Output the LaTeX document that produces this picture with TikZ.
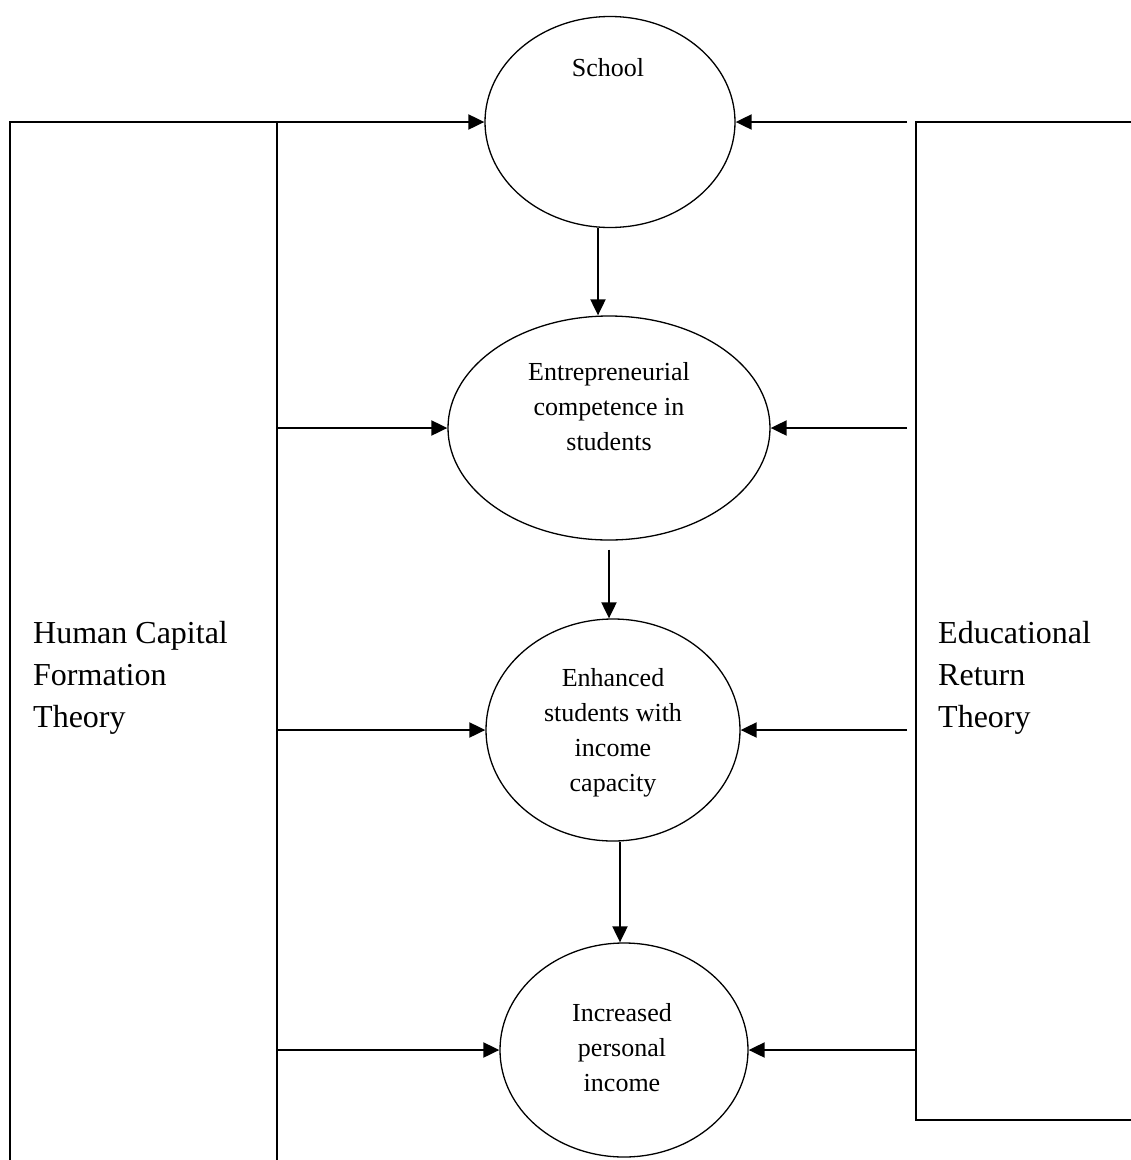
\documentclass[tikz,border=0pt]{standalone}
\usepackage{fontspec}
\setmainfont{Liberation Serif}
\usetikzlibrary{shapes.geometric, arrows.meta, positioning, calc}

\begin{document}
\begin{tikzpicture}[x=1pt, y=-1pt,
  stage/.style={draw, ellipse, line width=1.3pt, inner sep=0pt},
  txt/.style={font=\fontsize{26}{35}\selectfont, align=center},
  theory/.style={font=\fontsize{32}{42}\selectfont, align=left, anchor=north west, inner sep=0pt},
  arr/.style={-{Triangle[length=16pt,width=15pt]}, line width=2pt},
  frame/.style={line width=1.3pt},
]
  \useasboundingbox (0,0) rectangle (1131,1160);

  % stages
  \node[stage, minimum width=250pt, minimum height=211pt] (School) at (610,122) {};
  \node[stage, minimum width=322pt, minimum height=224pt] (Comp)   at (609,428) {};
  \node[stage, minimum width=254pt, minimum height=222pt] (Enh)    at (613,730) {};
  \node[stage, minimum width=248pt, minimum height=214pt] (Inc)    at (624,1050) {};

  \node[txt] (SchoolTxt) at (608,68)   {School};
  \node[txt] (CompTxt)   at (609,407)  {Entrepreneurial\\competence in\\students};
  \node[txt] (EnhTxt)    at (613,733)  {Enhanced\\students with\\income\\capacity};
  \node[txt] (IncTxt)    at (622,1048) {Increased\\personal\\income};

  % theories
  \node[theory] (HCF) at (33,621)  {Human Capital\\Formation\\Theory};
  \node[theory] (ERT) at (938,621) {Educational\\Return\\Theory};

  \coordinate (LTop) at (277,122);
  \coordinate (RTop) at (916,122);
  \draw[frame] (10,1175) -- (10,122) -- (LTop) -- (277,1175);
  \draw[frame] (1145,122) -- (RTop) -- (916,1120) -- (1145,1120);

  % down the chain
  \draw[arr] ([xshift=-12pt]School.south) -- ([xshift=-12pt]School.south |- Comp.north);
  \draw[arr] ([yshift=-9pt]Comp.south) -- (Comp.south |- Enh.north);
  \draw[arr] ([xshift=7pt]Enh.south) -- ([xshift=7pt]Enh.south |- Inc.north);

  % from the left
  \draw[arr] (LTop) -- (School.west);
  \draw[arr] (LTop |- Comp.west) -- (Comp.west);
  \draw[arr] (LTop |- Enh.west) -- (Enh.west);
  \draw[arr] (LTop |- Inc.west) -- (Inc.west);

  % from the right
  \draw[arr] ([xshift=-9pt]RTop) -- (School.east);
  \draw[arr] ([xshift=-9pt]RTop |- Comp.east) -- (Comp.east);
  \draw[arr] ([xshift=-9pt]RTop |- Enh.east) -- (Enh.east);
  \draw[arr] (RTop |- Inc.east) -- (Inc.east);
\end{tikzpicture}
\end{document}
